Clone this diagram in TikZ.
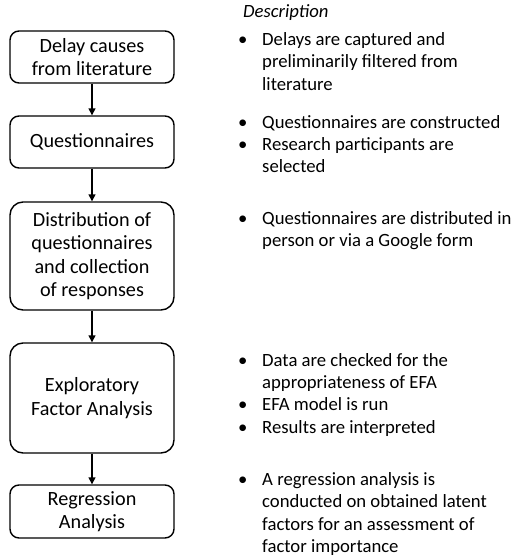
\documentclass[tikz,border=0pt]{standalone}
\usepackage{fontspec}
\setmainfont{Carlito}
\usetikzlibrary{arrows.meta}
\tikzset{
  stepbox/.style={draw, line width=1.4pt, rounded corners=9pt, minimum width=164pt, inner sep=0pt, align=center, font=\fontsize{20.2}{23.5}\selectfont},
  flow/.style={line width=1.4pt, -{Triangle[width=7pt,length=7pt]}},
  bul/.style={anchor=base west, inner sep=0pt, font=\fontsize{18.7}{22.5}\selectfont},
  item/.style={anchor=base west, inner sep=0pt, font=\fontsize{18.7}{22.5}\selectfont}
}
\newcommand{\lines}[1]{\begin{tabular}[t]{@{}l@{}}#1\end{tabular}}
\begin{document}
\begin{tikzpicture}[x=1pt,y=-1pt]
\useasboundingbox (0,0) rectangle (514,558);
\node[stepbox, minimum height=52pt] (b1) at (92,57) {Delay causes\\from literature};
\node[stepbox, minimum height=52pt] (b2) at (92,142) {Questionnaires};
\node[stepbox, minimum height=108pt, rounded corners=13pt] (b3) at (92,256) {Distribution of\\questionnaires\\and collection\\of responses};
\node[stepbox, minimum height=110pt, rounded corners=13pt] (b4) at (92,398) {Exploratory\\Factor Analysis};
\node[stepbox, minimum height=53pt] (b5) at (92,511.5) {Regression\\Analysis};
\draw[flow] (b1) -- (b2);
\draw[flow] (b2) -- (b3);
\draw[flow] (b3) -- (b4);
\draw[flow] (b4) -- (b5);
\node[bul, font=\fontsize{18.7}{22.5}\selectfont\itshape] (desc) at (243,17) {Description};
% group 1
\node[bul] (d1b) at (238,45) {\textbullet};
\node[item] (d1) at (262,45) {\lines{Delays are captured and\\preliminarily filtered from\\literature}};
% group 2
\node[bul] (d2b) at (238,128) {\textbullet};
\node[item] (d2) at (262,128) {Questionnaires are constructed};
\node[bul] (d3b) at (238,150) {\textbullet};
\node[item] (d3) at (262,150) {\lines{Research participants are\\selected}};
% group 3
\node[bul] (d4b) at (238,224) {\textbullet};
\node[item] (d4) at (262,224) {\lines{Questionnaires are distributed in\\person or via a Google form}};
% group 4
\node[bul] (d5b) at (238,366) {\textbullet};
\node[item] (d5) at (262,366) {\lines{Data are checked for the\\appropriateness of EFA}};
\node[bul] (d6b) at (238,410) {\textbullet};
\node[item] (d6) at (262,410) {EFA model is run};
\node[bul] (d7b) at (238,433) {\textbullet};
\node[item] (d7) at (262,433) {Results are interpreted};
% group 5
\node[bul] (d8b) at (238,485) {\textbullet};
\node[item] (d8) at (262,485) {\lines{A regression analysis is\\conducted on obtained latent\\factors for an assessment of\\factor importance}};
\end{tikzpicture}
\end{document}
